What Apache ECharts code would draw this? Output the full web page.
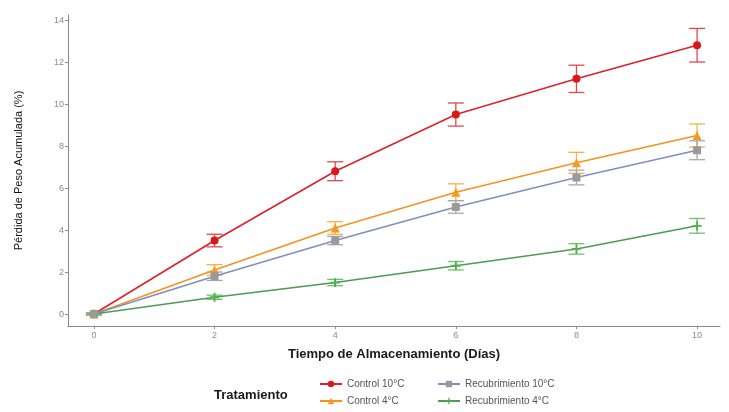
<!DOCTYPE html>
<html>
<head>
<meta charset="utf-8">
<script src="https://cdn.jsdelivr.net/npm/echarts@6/dist/echarts.min.js"></script>
<style>
  html, body { margin: 0; padding: 0; background: #ffffff; }
  #chart { width: 729px; height: 412px; }
</style>
</head>
<body>
<div id="chart"></div>
<script>
// Storage days
const dias = [0, 2, 4, 6, 8, 10];
const xTicks = [0, 2, 4, 6, 8, 10];
const yTicks = [0, 2, 4, 6, 8, 10, 12, 14];

// Accumulated weight loss (%) and standard error per treatment
const control10 = [0, 3.5, 6.8, 9.5, 11.2, 12.8];
const control10Err = [0.05, 0.3, 0.45, 0.55, 0.65, 0.8];
const control4 = [0, 2.1, 4.1, 5.8, 7.2, 8.5];
const control4Err = [0.05, 0.25, 0.3, 0.4, 0.5, 0.55];
const recub10 = [0, 1.8, 3.5, 5.1, 6.5, 7.8];
const recub10Err = [0.05, 0.2, 0.2, 0.3, 0.35, 0.45];
const recub4 = [0, 0.8, 1.5, 2.3, 3.1, 4.2];
const recub4Err = [0.05, 0.1, 0.15, 0.2, 0.25, 0.35];

const FONT = 'Liberation Sans, Arial, sans-serif';

const treatments = [
  { name: 'Control 10°C', y: control10, e: control10Err, line: '#e0202a', point: '#d7191c', bar: '#e0484c', symbol: 'circle', size: 8, z: 4 },
  { name: 'Control 4°C', y: control4, e: control4Err, line: '#f5931e', point: '#f59a23', bar: '#f5b04a', symbol: 'triangle', size: 9, z: 4 },
  { name: 'Recubrimiento 10°C', y: recub10, e: recub10Err, line: '#7f8fc0', point: '#9a9a9a', bar: '#a8a8a8', symbol: 'rect', size: 8, z: 5 },
  { name: 'Recubrimiento 4°C', y: recub4, e: recub4Err, line: '#4f9a52', point: '#4daf4a', bar: '#6fc06c', symbol: 'path://M4,0H6V4H10V6H6V10H4V6H0V4H4Z', size: 9, z: 3 }
];

const series = [];
treatments.forEach(t => {
  // error bars with caps
  series.push({
    type: 'custom',
    name: t.name + ' err',
    data: dias.map((d, i) => [d, t.y[i] - t.e[i], t.y[i] + t.e[i]]),
    renderItem: function (params, api) {
      const lo = api.coord([api.value(0), api.value(1)]);
      const hi = api.coord([api.value(0), api.value(2)]);
      const w = 8;
      const style = { stroke: t.bar, lineWidth: 1.3, fill: null };
      return {
        type: 'group',
        children: [
          { type: 'line', shape: { x1: lo[0], y1: lo[1], x2: hi[0], y2: hi[1] }, style },
          { type: 'line', shape: { x1: lo[0] - w, y1: lo[1], x2: lo[0] + w, y2: lo[1] }, style },
          { type: 'line', shape: { x1: hi[0] - w, y1: hi[1], x2: hi[0] + w, y2: hi[1] }, style }
        ]
      };
    },
    z: 2,
    silent: true
  });
  series.push({
    type: 'line',
    name: t.name,
    data: dias.map((d, i) => [d, t.y[i]]),
    symbol: t.symbol,
    symbolSize: t.size,
    showAllSymbol: true,
    lineStyle: { color: t.line, width: 1.6 },
    itemStyle: { color: t.point },
    z: t.z
  });
});

const chart = echarts.init(document.getElementById('chart'), null, { renderer: 'canvas' });
chart.setOption({
  animation: false,
  backgroundColor: '#ffffff',
  textStyle: { fontFamily: FONT },
  grid: { left: 68, right: 9, top: 15, bottom: 86, containLabel: false },
  xAxis: {
    type: 'value',
    min: -0.43,
    max: 10.38,
    name: 'Tiempo de Almacenamiento (Días)',
    nameLocation: 'middle',
    nameGap: 22,
    nameTextStyle: { fontFamily: FONT, fontSize: 13, fontWeight: 'bold', color: '#1a1a1a' },
    axisLine: { show: true, onZero: false, lineStyle: { color: '#8a8a8a', width: 1 } },
    axisTick: { show: true, customValues: xTicks, length: 3, lineStyle: { color: '#8a8a8a' } },
    axisLabel: { customValues: xTicks, color: '#8a8a8a', fontSize: 9, margin: 5, fontFamily: FONT },
    splitLine: { show: false }
  },
  yAxis: {
    type: 'value',
    min: -0.57,
    max: 14.24,
    name: 'Pérdida de Peso Acumulada (%)',
    nameLocation: 'middle',
    nameGap: 44,
    nameRotate: 90,
    nameTextStyle: { fontFamily: FONT, fontSize: 11, color: '#111111' },
    axisLine: { show: true, onZero: false, lineStyle: { color: '#8a8a8a', width: 1 } },
    axisTick: { show: true, customValues: yTicks, length: 3, lineStyle: { color: '#8a8a8a' } },
    axisLabel: { customValues: yTicks, color: '#8a8a8a', fontSize: 9, margin: 4, fontFamily: FONT },
    splitLine: { show: false }
  },
  legend: [
    {
      data: ['Control 10°C', 'Control 4°C'],
      orient: 'vertical',
      left: 314,
      top: 374,
      itemGap: 7,
      itemWidth: 22,
      itemHeight: 8,
      textStyle: { fontFamily: FONT, fontSize: 10, color: '#555555' },
      selectedMode: false
    },
    {
      data: ['Recubrimiento 10°C', 'Recubrimiento 4°C'],
      orient: 'vertical',
      left: 432,
      top: 374,
      itemGap: 7,
      itemWidth: 22,
      itemHeight: 8,
      textStyle: { fontFamily: FONT, fontSize: 10, color: '#555555' },
      selectedMode: false
    }
  ],
  graphic: [
    {
      type: 'text',
      left: 214,
      top: 389,
      style: { text: 'Tratamiento', fontFamily: FONT, fontSize: 13, fontWeight: 'bold', fill: '#1a1a1a' }
    }
  ],
  series: series
});
</script>
</body>
</html>
